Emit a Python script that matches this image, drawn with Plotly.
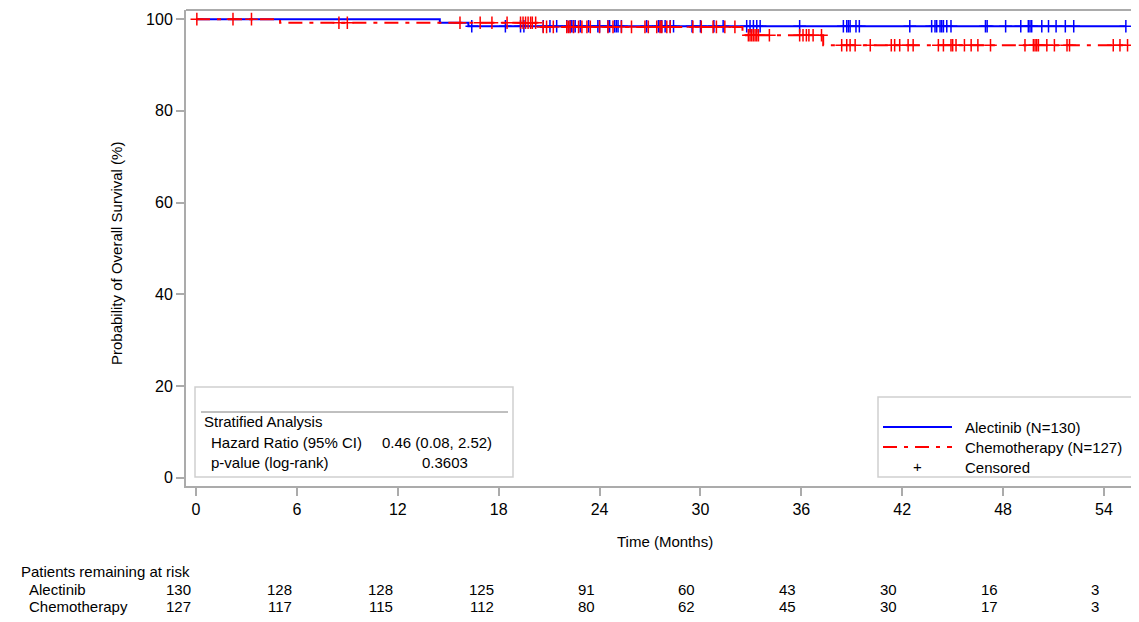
import plotly.graph_objects as go

# ---------------- data ----------------
alec_event_t = [0, 14.5, 16.2]
alec_surv = [100, 99.23, 98.46]
alec_end = 55.3
alec_cens_t = [16.4, 18.4, 19.3, 19.5, 20.65, 21.05, 21.45, 22.05, 22.25, 22.35, 22.45, 22.55,
               22.85, 23.35, 23.9, 24.0, 24.5, 24.6, 24.9, 25.0, 25.1, 25.3, 26.8, 27.5, 27.6,
               27.7, 27.9, 28.2, 28.4, 29.5, 30.0, 30.8, 31.35, 32.75, 32.95, 33.15, 33.35,
               33.55, 35.9, 38.5, 38.7, 38.8, 38.9, 39.25, 39.45, 42.45, 43.75, 43.95, 44.05,
               44.25, 44.35, 44.45, 44.65, 44.9, 46.95, 47.05, 48.15, 49.05, 49.5, 49.6, 49.7,
               50.3, 50.7, 51.15, 51.7, 52.2, 55.3]

chemo_event_t = [0, 5.0, 20.3, 32.5, 37.3]
chemo_surv = [100, 99.21, 98.31, 96.5, 94.3]
chemo_end = 55.4
chemo_cens_t = [0.05, 2.2, 3.3,
                8.5, 9.0, 15.7, 16.9, 17.6, 18.5, 19.3, 19.45, 19.6, 19.75, 19.9, 20.0, 20.2,
                20.65, 20.85, 21.25, 22.05, 22.15, 22.25, 22.45, 22.75, 22.95, 23.25, 23.45,
                24.0, 24.5, 24.8, 25.3, 25.9, 26.7, 26.9, 27.4, 27.6, 27.7, 28.0, 28.2, 29.55,
                30.05, 30.75, 30.95, 31.45, 32.05,
                32.85, 32.95, 33.05, 33.15, 33.25, 33.35, 33.45, 34.1, 35.9, 36.1, 36.3, 36.45,
                36.7, 37.2,
                38.4, 38.7, 38.9, 39.2, 40.1, 41.35, 41.55, 41.85, 42.35, 42.65, 44.15, 44.45,
                44.9, 45.0, 45.2, 45.7, 46.1, 46.5, 47.25, 49.3, 49.8, 49.9, 50.0, 50.1, 50.6,
                51.05, 51.8, 51.95, 54.55, 54.95, 55.4]

risk_times = [0, 6, 12, 18, 24, 30, 36, 42, 48, 54]
alec_risk = [130, 128, 128, 125, 91, 60, 43, 30, 16, 3]
chemo_risk = [127, 117, 115, 112, 80, 62, 45, 30, 17, 3]

x_ticks = [0, 6, 12, 18, 24, 30, 36, 42, 48, 54]
y_ticks = [0, 20, 40, 60, 80, 100]

alec_name = "Alectinib (N=130)"
chemo_name = "Chemotherapy (N=127)"
hr_text = "0.46 (0.08, 2.52)"
p_text = "0.3603"

BLUE = "#0000FF"
RED = "#FF0000"
GRAY = "#ABABAB"
FONT = "Liberation Sans"


def step_value(times, surv, t):
    v = surv[0]
    for ti, si in zip(times, surv):
        if ti <= t:
            v = si
    return v


# page body margin shifts the figure by 8px; work in reference-pixel coordinates
OFF = 8
W, H = 1139, 622
REF_L, REF_R, REF_T, REF_B = 186, 1139, 10, 486  # plot area edges in reference pixels
L = REF_L - OFF
T = REF_T - OFF
R = W - (REF_R - OFF)
B = H - (REF_B - OFF)
PW, PH = REF_R - REF_L, REF_B - REF_T


def px(xpix):
    return (xpix - REF_L) / PW


def py(ypix):
    return (REF_B - ypix) / PH


fig = go.Figure()

fig.add_trace(go.Scatter(x=alec_event_t + [alec_end], y=alec_surv + [alec_surv[-1]],
                         mode="lines", line=dict(color=BLUE, width=2, shape="hv"),
                         showlegend=False, hoverinfo="skip"))
fig.add_trace(go.Scatter(x=alec_cens_t,
                         y=[step_value(alec_event_t, alec_surv, t) for t in alec_cens_t],
                         mode="markers",
                         marker=dict(symbol="cross-thin", size=9, line=dict(color=BLUE, width=1.5)),
                         showlegend=False, hoverinfo="skip"))
fig.add_trace(go.Scatter(x=chemo_event_t + [chemo_end], y=chemo_surv + [chemo_surv[-1]],
                         mode="lines",
                         line=dict(color=RED, width=2, shape="hv", dash="14px,7px,4px,7px"),
                         showlegend=False, hoverinfo="skip"))
fig.add_trace(go.Scatter(x=chemo_cens_t,
                         y=[step_value(chemo_event_t, chemo_surv, t) for t in chemo_cens_t],
                         mode="markers",
                         marker=dict(symbol="cross-thin", size=9, line=dict(color=RED, width=1.5)),
                         showlegend=False, hoverinfo="skip"))

shapes = []
shapes.append(dict(type="line", xref="paper", yref="paper", x0=0, x1=1, y0=1, y1=1,
                   line=dict(color=GRAY, width=2)))
shapes.append(dict(type="rect", xref="paper", yref="paper", x0=px(195), x1=px(513),
                   y0=py(477), y1=py(387), line=dict(color="#CFCFCF", width=1.5)))
shapes.append(dict(type="line", xref="paper", yref="paper", x0=px(201), x1=px(508),
                   y0=py(412), y1=py(412), line=dict(color="#808080", width=1)))
shapes.append(dict(type="rect", xref="paper", yref="paper", x0=px(878), x1=px(1135),
                   y0=py(477), y1=py(397), line=dict(color="#CFCFCF", width=1.5)))
shapes.append(dict(type="line", xref="paper", yref="paper", x0=px(883), x1=px(952),
                   y0=py(427), y1=py(427), line=dict(color=BLUE, width=2)))
shapes.append(dict(type="line", xref="paper", yref="paper", x0=px(883), x1=px(952),
                   y0=py(447), y1=py(447), line=dict(color=RED, width=2, dash="14px,7px,4px,7px")))

ann = []


def text(x, y, s, xanchor="left", size=15, **kw):
    ann.append(dict(x=x, y=y, xref="paper", yref="paper", text=s, showarrow=False,
                    xanchor=xanchor, yanchor="middle",
                    font=dict(family=FONT, size=size, color="black"), **kw))


text(px(202), py(421.5), "Stratified Analysis")
text(px(209), py(442), "Hazard Ratio (95% CI)")
text(px(380), py(442), hr_text)
text(px(209), py(462), "p-value (log-rank)")
text(px(445), py(462), p_text, xanchor="center")

text(px(963), py(427), alec_name)
text(px(963), py(447), chemo_name)
text(px(917), py(466), "+", xanchor="center")
text(px(963), py(467), "Censored")

text(px(664.5), py(541), "Time (Months)", xanchor="center")
text(px(117), py(254), "Probability of Overall Survival (%)", xanchor="center", textangle=-90)

text(px(19), py(571), "Patients remaining at risk")
text(px(27), py(589), "Alectinib")
text(px(27), py(606), "Chemotherapy")

for t, a, c in zip(risk_times, alec_risk, chemo_risk):
    for val, ypix in ((a, 589), (c, 606)):
        ann.append(dict(x=t, y=py(ypix), xref="x", yref="paper", text=str(val), showarrow=False,
                        xanchor="right", yanchor="middle", xshift=-3,
                        font=dict(family=FONT, size=15, color="black")))

x0_pix, x54_pix = 196, 1104
ppm = (x54_pix - x0_pix) / 54.0
x_range = [(REF_L - x0_pix) / ppm, (REF_R - x0_pix) / ppm]

fig.update_layout(
    width=W, height=H,
    margin=dict(l=L, r=R, t=T, b=B, pad=0),
    paper_bgcolor="white", plot_bgcolor="white",
    shapes=shapes, annotations=ann,
    showlegend=False,
    xaxis=dict(range=x_range, tickvals=x_ticks, ticktext=[str(v) for v in x_ticks],
               showgrid=False, zeroline=False, showline=True, linecolor=GRAY, linewidth=2,
               ticks="outside", ticklen=8, tickwidth=2, tickcolor=GRAY,
               tickfont=dict(family=FONT, size=16, color="black")),
    yaxis=dict(range=[-1.8, 102.0], tickvals=y_ticks, ticktext=[str(v) for v in y_ticks],
               showgrid=False, zeroline=False, showline=True, linecolor=GRAY, linewidth=2,
               ticks="outside", ticklen=8, tickwidth=2, tickcolor=GRAY,
               tickfont=dict(family=FONT, size=16, color="black")),
)

fig.write_html("out.html")
